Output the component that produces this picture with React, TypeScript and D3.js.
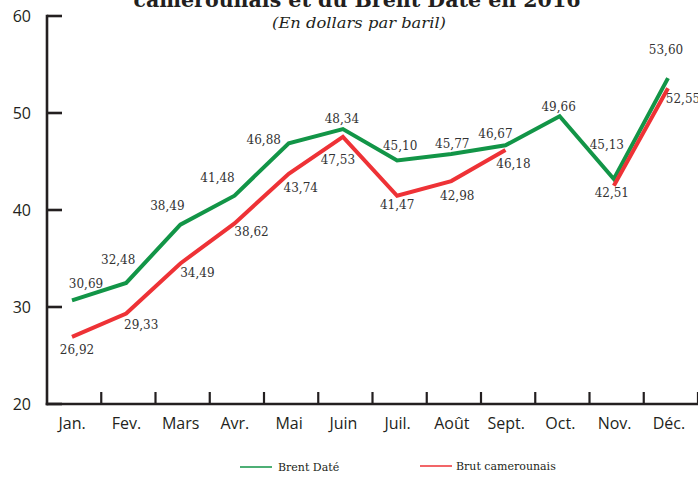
import React from "react";
import * as d3 from "d3";

const months = ["Jan.", "Fev.", "Mars", "Avr.", "Mai", "Juin", "Juil.", "Août", "Sept.", "Oct.", "Nov.", "Déc."];
const brentValues: (number | null)[] = [30.69, 32.48, 38.49, 41.48, 46.88, 48.34, 45.1, 45.77, 46.67, 49.66, 43.2, 53.6];
const brentLabels = ["30,69", "32,48", "38,49", "41,48", "46,88", "48,34", "45,10", "45,77", "46,67", "49,66", "45,13", "53,60"];
const brutValues: (number | null)[] = [26.92, 29.33, 34.49, 38.62, 43.74, 47.53, 41.47, 42.98, 46.18, null, 42.51, 52.55];
const brutLabels = ["26,92", "29,33", "34,49", "38,62", "43,74", "47,53", "41,47", "42,98", "46,18", "", "42,51", "52,55"];
const yTicks = [20, 30, 40, 50, 60];

// label placement offsets (dx, dy) relative to the point, in px
const brentLabelOffsets: [number, number][] = [
  [14, -17], [-8, -23], [-13, -19], [-17, -18], [-25, -4], [-1, -11], [3, -15], [1, -11], [-10, -12], [-1, -10], [-7, -34], [-2, -29],
];
const brutLabelOffsets: [number, number][] = [
  [5, 13], [15, 11], [17, 9], [17, 8], [12, 14], [-5, 23], [0, 9], [6, 14], [8, 13], [0, 0], [-2, 7], [15, 10],
];

const W = 698;
const H = 477;
const GREEN = "#129547";
const RED = "#ee3236";
const DARK = "#231f20";

export default function App() {
  const y = d3.scaleLinear().domain([20, 60]).range([404, 16]);
  const band = d3.scaleBand<string>().domain(months).range([47, 698]).padding(0);
  const xp = d3.scalePoint<string>().domain(months).range([72, 668]);

  const line = d3
    .line<number | null>()
    .defined((d) => d !== null)
    .x((_, i) => xp(months[i]) as number)
    .y((d) => y(d as number));

  const labelFont = "'DejaVu Serif', serif";
  const sans = "'Open Sans', sans-serif";

  return (
    <svg width={W} height={H} style={{ position: "absolute", left: 0, top: 0, background: "#fff" }}>
      <rect x={0} y={0} width={W} height={H} fill="#fff" />
      {/* Title (partially clipped) */}
      <text x={357} y={7} textAnchor="middle" fontFamily={labelFont} fontWeight="bold" fontSize={21} fill={DARK} textLength={447} lengthAdjust="spacingAndGlyphs">
        camerounais et du Brent Daté en 2016
      </text>
      <text x={359} y={28} textAnchor="middle" fontFamily={labelFont} fontStyle="italic" fontSize={15} fill={DARK} textLength={174} lengthAdjust="spacingAndGlyphs">
        (En dollars par baril)
      </text>

      {/* Axes */}
      <line x1={47} x2={47} y1={14.8} y2={405.2} stroke={DARK} strokeWidth={2.6} />
      <line x1={45.7} x2={698} y1={404} y2={404} stroke={DARK} strokeWidth={2.6} />
      {yTicks.map((t) => (
        <g key={t}>
          <line x1={47} x2={62} y1={y(t)} y2={y(t)} stroke={DARK} strokeWidth={2.6} />
          <text x={31} y={y(t) + 6} textAnchor="end" fontFamily={sans} fontSize={16} fill={DARK}>
            {t}
          </text>
        </g>
      ))}
      {months.map((m) => {
        const x1 = (band(m) as number) + band.bandwidth();
        return <line key={"t" + m} x1={x1} x2={x1} y1={404} y2={392} stroke={DARK} strokeWidth={2.2} />;
      })}
      {months.map((m) => (
        <text key={"l" + m} x={(band(m) as number) + band.bandwidth() / 2 - 2} y={429} textAnchor="middle" fontFamily={sans} fontSize={16} fill={DARK}>
          {m}
        </text>
      ))}

      {/* Lines */}
      <path d={line(brentValues) || ""} fill="none" stroke={GREEN} strokeWidth={4} strokeLinejoin="miter" />
      <path d={line(brutValues) || ""} fill="none" stroke={RED} strokeWidth={4} strokeLinejoin="miter" />

      {/* Data labels */}
      {brentValues.map((v, i) =>
        v === null ? null : (
          <text key={"bl" + i} x={(xp(months[i]) as number) + brentLabelOffsets[i][0]} y={y(v) + brentLabelOffsets[i][1] + 4.5} textAnchor="middle" fontFamily={labelFont} fontSize={12} fill="#333">
            {brentLabels[i]}
          </text>
        )
      )}
      {brutValues.map((v, i) =>
        v === null ? null : (
          <text key={"rl" + i} x={(xp(months[i]) as number) + brutLabelOffsets[i][0]} y={y(v) + brutLabelOffsets[i][1] + 4.5} textAnchor="middle" fontFamily={labelFont} fontSize={12} fill="#333">
            {brutLabels[i]}
          </text>
        )
      )}

      {/* Legend */}
      <line x1={240} x2={272} y1={467} y2={467} stroke={GREEN} strokeWidth={1.5} />
      <text x={278} y={471} fontFamily={labelFont} fontSize={11} fill={DARK}>Brent Daté</text>
      <line x1={420} x2={452} y1={466} y2={466} stroke={RED} strokeWidth={1.5} />
      <text x={456} y={470} fontFamily={labelFont} fontSize={11} fill={DARK}>Brut camerounais</text>
    </svg>
  );
}
